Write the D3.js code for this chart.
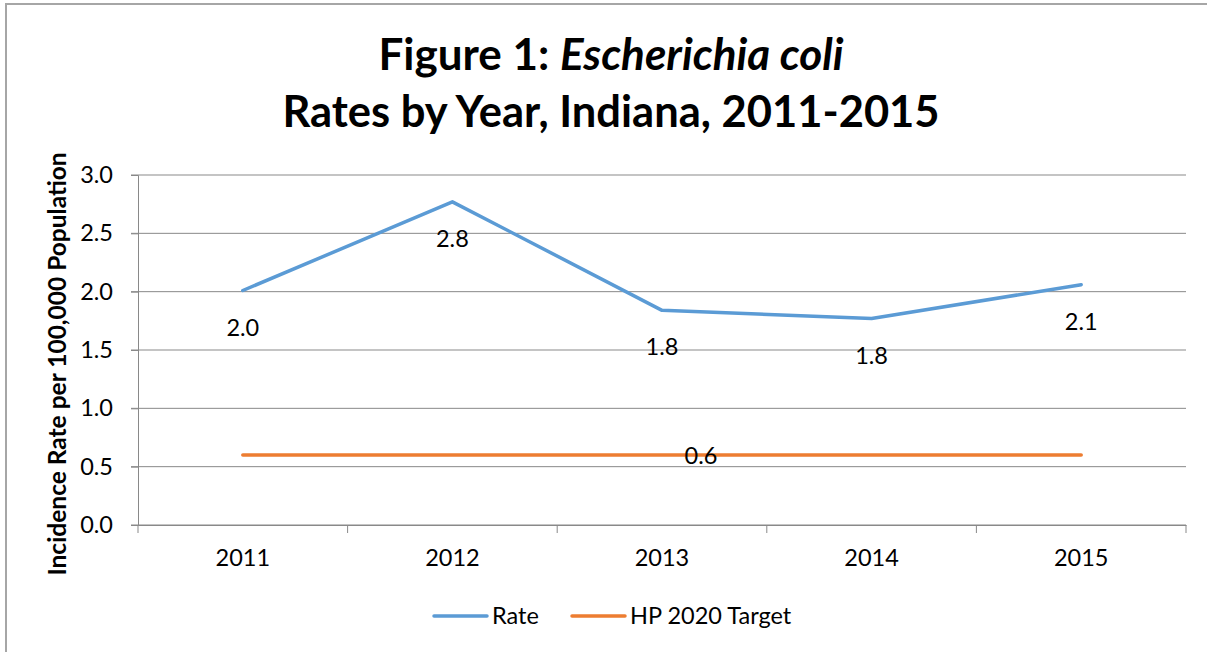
<!DOCTYPE html>
<html>
<head>
<meta charset="utf-8">
<script src="https://cdn.jsdelivr.net/npm/d3@7"></script>
<style>
  body { margin: 0; background: #fff; }
  text { font-family: Lato, "Open Sans", sans-serif; fill: #000; }
</style>
</head>
<body>
<script>
// data
const years = ['2011', '2012', '2013', '2014', '2015'];
const rate = [2.01, 2.77, 1.84, 1.77, 2.06];
const target = [0.6, 0.6, 0.6, 0.6, 0.6];
const yTicks = [0, 0.5, 1.0, 1.5, 2.0, 2.5, 3.0];
const seriesNames = ['Rate', 'HP 2020 Target'];
const colors = ['#5B9BD5', '#ED7D31'];

const W = 1207, H = 652;
const plotLeft = 138, plotRight = 1186, plotTop = 175, plotBottom = 525;
const fs = 23.5;

const svg = d3.select('body').append('svg')
  .attr('width', W)
  .attr('height', H);

svg.append('rect').attr('width', W).attr('height', H).attr('fill', '#fff');

// outer frame (cut off at right and bottom)
svg.append('rect')
  .attr('x', 6).attr('y', 4)
  .attr('width', W + 20).attr('height', H + 20)
  .attr('fill', 'none')
  .attr('stroke', '#a6a6a6')
  .attr('stroke-width', 2);

const x = d3.scaleBand().domain(years).range([plotLeft, plotRight]).padding(0);
const y = d3.scaleLinear().domain([0, 3]).range([plotBottom, plotTop]);
const cx = d => x(d) + x.bandwidth() / 2;

// title
const title = svg.append('text')
  .attr('text-anchor', 'middle')
  .attr('font-weight', 'bold')
  .attr('font-size', 44);
title.append('tspan').attr('x', 611).attr('y', 70).text('Figure 1: ');
title.append('tspan').attr('font-style', 'italic').text('Escherichia coli');
svg.append('text')
  .attr('x', 611).attr('y', 127)
  .attr('text-anchor', 'middle')
  .attr('font-weight', 'bold')
  .attr('font-size', 43.5)
  .text('Rates by Year, Indiana, 2011-2015');

// gridlines
svg.append('g')
  .selectAll('line')
  .data(yTicks)
  .join('line')
  .attr('x1', plotLeft - 7).attr('x2', plotRight)
  .attr('y1', d => y(d)).attr('y2', d => y(d))
  .attr('stroke', '#898989')
  .attr('stroke-width', 1);

// y axis
const yAxis = svg.append('g')
  .attr('transform', `translate(${plotLeft},0)`)
  .call(d3.axisLeft(y).tickValues(yTicks).tickFormat(d3.format('.1f')).tickSize(7).tickPadding(18));
yAxis.select('.domain').attr('stroke', '#898989');
yAxis.selectAll('.tick line').attr('stroke', '#898989');
yAxis.selectAll('text').attr('font-size', fs).attr('font-family', 'Lato, sans-serif').attr('fill', '#000');

// x axis
const xAxis = svg.append('g')
  .attr('transform', `translate(0,${plotBottom})`)
  .call(d3.axisBottom(x).tickSize(0).tickPadding(24));
xAxis.select('.domain').attr('stroke', '#898989');
xAxis.selectAll('text').attr('font-size', fs).attr('font-family', 'Lato, sans-serif').attr('fill', '#000');
// tick marks at band boundaries
svg.append('g')
  .selectAll('line')
  .data(years.concat(['end']))
  .join('line')
  .attr('x1', (d, i) => plotLeft + i * x.bandwidth())
  .attr('x2', (d, i) => plotLeft + i * x.bandwidth())
  .attr('y1', plotBottom).attr('y2', plotBottom + 8)
  .attr('stroke', '#898989');

// y axis title
svg.append('text')
  .attr('transform', 'translate(66,364) rotate(-90)')
  .attr('text-anchor', 'middle')
  .attr('font-weight', 'bold')
  .attr('font-size', 24.5)
  .text('Incidence Rate per 100,000 Population');

// lines
const line = d3.line().x((d, i) => cx(years[i])).y(d => y(d));
[rate, target].forEach((s, k) => {
  svg.append('path')
    .datum(s)
    .attr('d', line)
    .attr('fill', 'none')
    .attr('stroke', colors[k])
    .attr('stroke-width', 3.5)
    .attr('stroke-linecap', 'round')
    .attr('stroke-linejoin', 'round');
});

// data labels
svg.append('g')
  .selectAll('text')
  .data(rate)
  .join('text')
  .attr('x', (d, i) => cx(years[i]))
  .attr('y', d => y(d) + 45)
  .attr('text-anchor', 'middle')
  .attr('font-size', fs)
  .text(d => d3.format('.1f')(d));

svg.append('text')
  .attr('x', cx(years[2]) + 39)
  .attr('y', y(target[2]) + 9)
  .attr('text-anchor', 'middle')
  .attr('font-size', fs)
  .text(d3.format('.1f')(target[2]));

// legend
const legend = [
  { name: seriesNames[0], color: colors[0], x: 434 },
  { name: seriesNames[1], color: colors[1], x: 572 }
];
const lg = svg.append('g').selectAll('g').data(legend).join('g')
  .attr('transform', d => `translate(${d.x},616)`);
lg.append('line')
  .attr('x1', 0).attr('x2', 53)
  .attr('stroke', d => d.color)
  .attr('stroke-width', 3.5)
  .attr('stroke-linecap', 'round');
lg.append('text')
  .attr('x', 58).attr('y', 8)
  .attr('font-size', fs)
  .text(d => d.name);
</script>
</body>
</html>
